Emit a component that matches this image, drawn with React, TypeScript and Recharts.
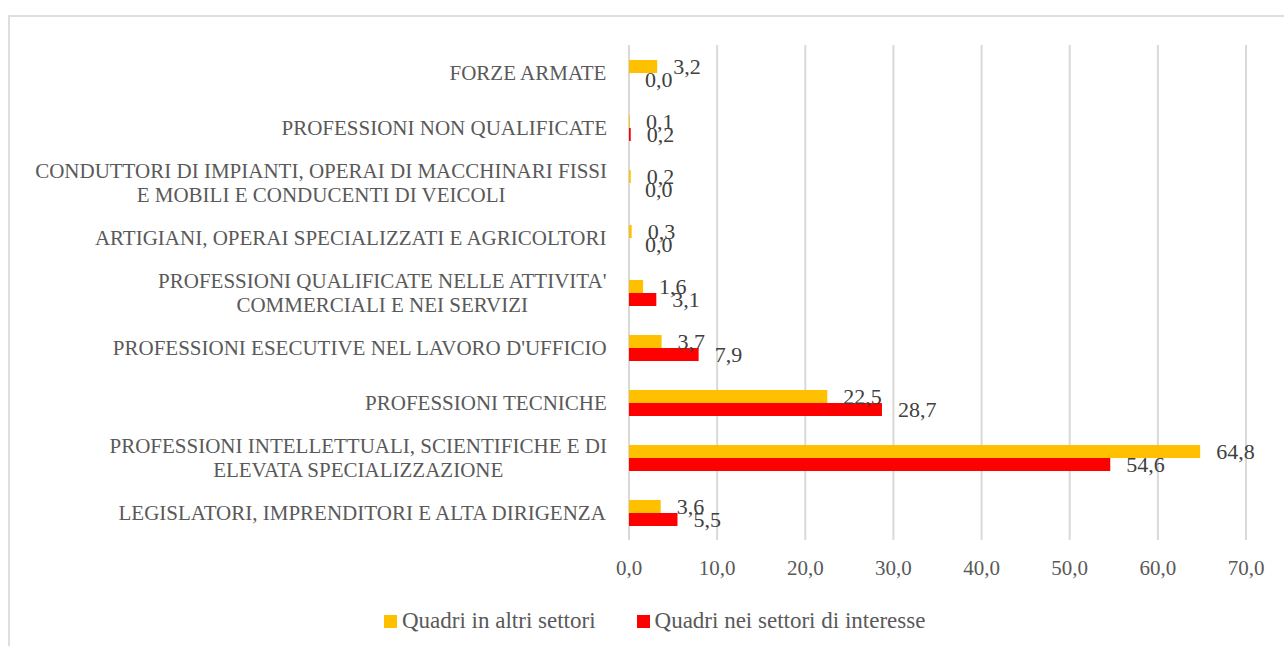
import React from 'react';
import { BarChart, Bar, XAxis, YAxis, CartesianGrid, LabelList, Legend } from 'recharts';

const categories: string[] = [
  'FORZE ARMATE',
  'PROFESSIONI NON QUALIFICATE',
  'CONDUTTORI DI IMPIANTI, OPERAI DI MACCHINARI FISSI\nE MOBILI E CONDUCENTI DI VEICOLI',
  'ARTIGIANI, OPERAI SPECIALIZZATI E AGRICOLTORI',
  "PROFESSIONI QUALIFICATE NELLE ATTIVITA'\nCOMMERCIALI E NEI SERVIZI",
  "PROFESSIONI ESECUTIVE NEL LAVORO D'UFFICIO",
  'PROFESSIONI TECNICHE',
  'PROFESSIONI INTELLETTUALI, SCIENTIFICHE E DI\nELEVATA SPECIALIZZAZIONE',
  'LEGISLATORI, IMPRENDITORI E ALTA DIRIGENZA',
];

const altriSettori: number[] = [3.2, 0.1, 0.2, 0.3, 1.6, 3.7, 22.5, 64.8, 3.6];
const settoriInteresse: number[] = [0.0, 0.2, 0.0, 0.0, 3.1, 7.9, 28.7, 54.6, 5.5];

const xTicks: number[] = [0, 10, 20, 30, 40, 50, 60, 70];

const seriesNames = ['Quadri in altri settori', 'Quadri nei settori di interesse'];
const seriesColors = ['#FFC000', '#FF0000'];

const data = categories.map((name, i) => ({
  name,
  altri: altriSettori[i],
  interesse: settoriInteresse[i],
}));

const FONT = 'Liberation Serif, Times New Roman, serif';
const fmt = (v: number) => Number(v).toFixed(1).replace('.', ',');

let ctx: CanvasRenderingContext2D | null = null;
const measure = (text: string, size: number) => {
  if (!ctx) {
    const c = document.createElement('canvas');
    ctx = c.getContext('2d');
  }
  if (!ctx) return text.length * size * 0.6;
  ctx.font = `${size}px "Liberation Serif"`;
  return ctx.measureText(text).width;
};

const CAT_SIZE = 21;

const YTick = (props: any) => {
  const { x, y, payload } = props;
  const lines: string[] = String(payload.value).split('\n');
  const right = x - 14;
  const widths = lines.map((l) => measure(l, CAT_SIZE));
  const maxW = Math.max(...widths);
  const cx = right - maxW / 2;
  const lh = 24;
  const startY = y - ((lines.length - 1) * lh) / 2;
  return (
    <g>
      {lines.map((l, i) => (
        <text
          key={i}
          x={cx}
          y={startY + i * lh}
          dy="0.35em"
          textAnchor="middle"
          fill="#595959"
          fontFamily={FONT}
          fontSize={CAT_SIZE}
        >
          {l}
        </text>
      ))}
    </g>
  );
};

const BarValueLabel = (props: any) => {
  const { x, y, width, height, value } = props;
  const w = Number(width) || 0;
  return (
    <text
      x={x + w + 16}
      y={y + height / 2}
      dy="0.35em"
      textAnchor="start"
      fill="#404040"
      fontFamily={FONT}
      fontSize={22}
    >
      {fmt(value)}
    </text>
  );
};

const LegendContent = (props: any) => {
  const { payload } = props;
  return (
    <div style={{ display: 'flex', alignItems: 'center', fontFamily: FONT, fontSize: 23, color: '#595959' }}>
      {(payload || []).map((p: any, i: number) => (
        <div key={i} style={{ display: 'flex', alignItems: 'center', marginRight: i === 0 ? 41 : 0 }}>
          <span style={{ display: 'inline-block', width: 13, height: 13, background: p.color, marginRight: 5 }} />
          <span style={{ lineHeight: '26px' }}>{p.value}</span>
        </div>
      ))}
    </div>
  );
};

export default function App() {
  return (
    <div style={{ position: 'fixed', left: 0, top: 0, width: 1284, height: 646, overflow: 'hidden', background: '#fff' }}>
      <div
        style={{
          position: 'absolute',
          left: 8,
          top: 15,
          width: 1300,
          height: 660,
          borderLeft: '2px solid #dedede',
          borderTop: '2px solid #dedede',
          boxSizing: 'border-box',
        }}
      />
      <div style={{ position: 'absolute', left: 0, top: 0 }}>
        <BarChart
          width={1284}
          height={646}
          data={data}
          layout="vertical"
          margin={{ top: 45, right: 38, left: 0, bottom: 66 }}
          barSize={13}
          barGap={0}
        >
          <CartesianGrid horizontal={false} vertical={true} stroke="#d9d9d9" strokeWidth={2} />
          <XAxis
            type="number"
            domain={[0, 70]}
            ticks={xTicks}
            interval={0}
            height={40}
            axisLine={false}
            tickLine={false}
            tickMargin={14}
            tickFormatter={fmt}
            tick={{ fill: '#595959', fontFamily: FONT, fontSize: 21 }}
          />
          <YAxis
            type="category"
            dataKey="name"
            width={629}
            axisLine={false}
            tickLine={false}
            interval={0}
            tick={<YTick />}
          />
          <Legend
            verticalAlign="middle"
            align="center"
            content={<LegendContent />}
            wrapperStyle={{ left: 384, top: 608, width: 'auto' }}
          />
          <Bar dataKey="altri" name={seriesNames[0]} fill={seriesColors[0]} minPointSize={0.01} isAnimationActive={false}>
            <LabelList dataKey="altri" content={<BarValueLabel />} />
          </Bar>
          <Bar dataKey="interesse" name={seriesNames[1]} fill={seriesColors[1]} minPointSize={0.01} isAnimationActive={false}>
            <LabelList dataKey="interesse" content={<BarValueLabel />} />
          </Bar>
        </BarChart>
      </div>
    </div>
  );
}
